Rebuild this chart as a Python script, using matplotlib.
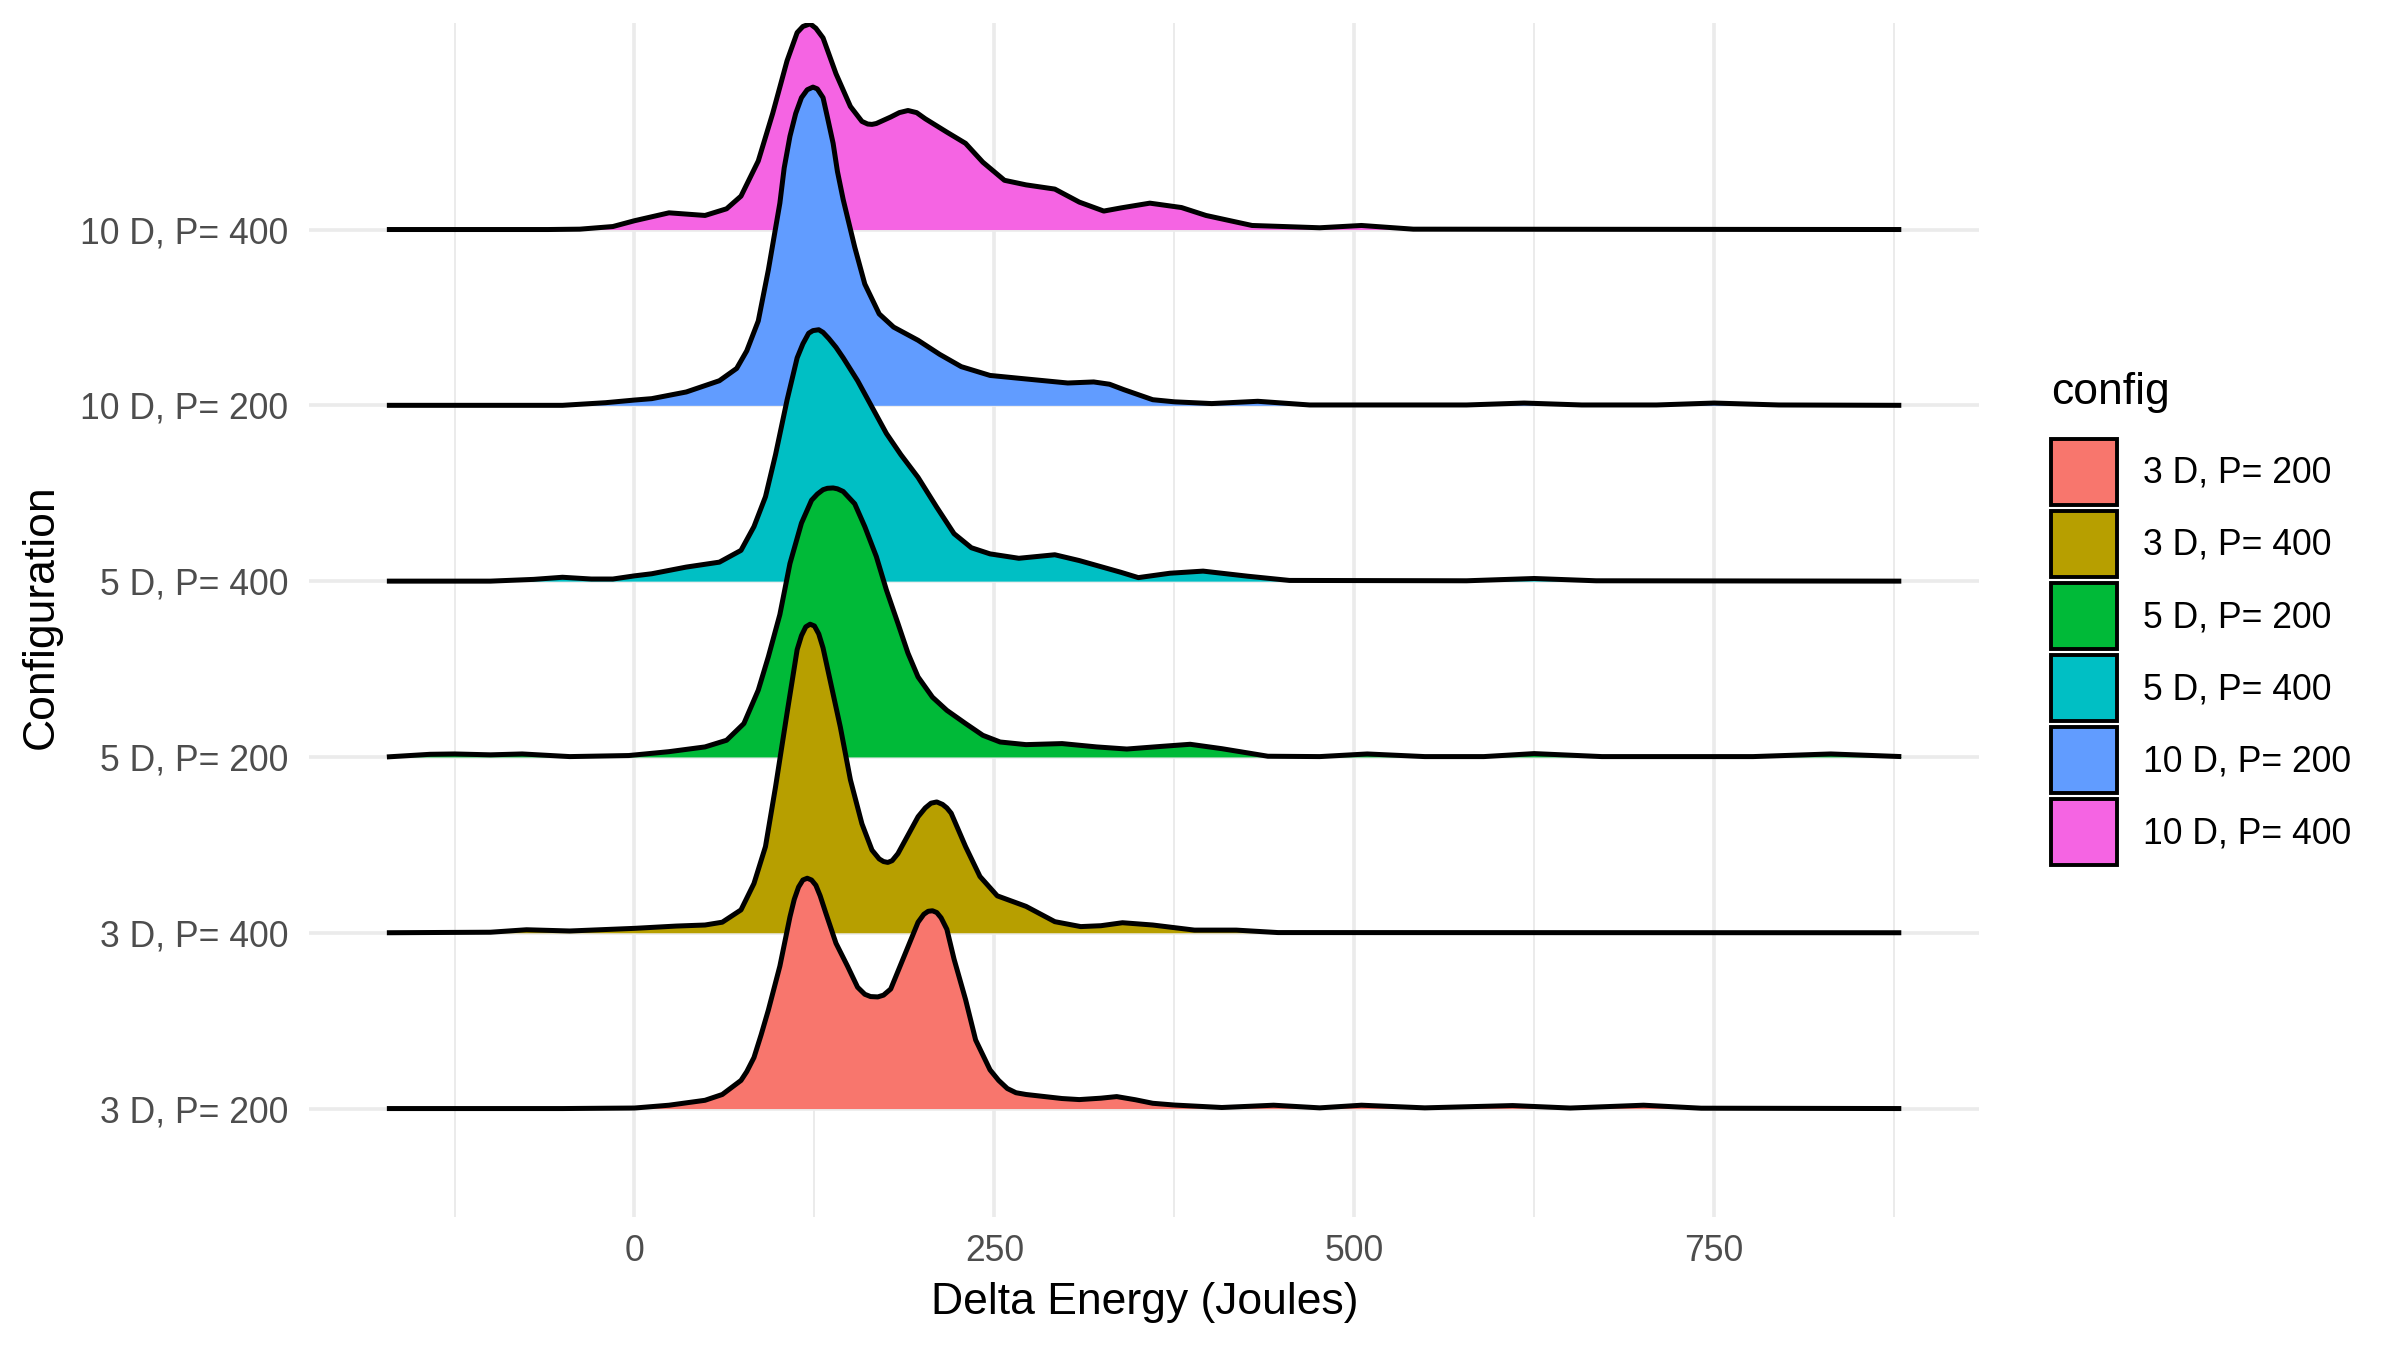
import matplotlib

matplotlib.use("Agg")
import matplotlib.pyplot as plt
from matplotlib.patches import Patch

plt.rcParams["font.family"] = ["Liberation Sans", "DejaVu Sans"]

configs = ["3 D, P= 200", "3 D, P= 400", "5 D, P= 200", "5 D, P= 400", "10 D, P= 200", "10 D, P= 400"]
colors = ["#F8766D", "#B79F00", "#00BA38", "#00BFC4", "#619CFF", "#F564E3"]

# Density curves: x in Joules, height in units of ridge spacing
x_3d200 = [-172, -50, 0, 24, 49, 61, 74, 78, 83, 88, 93, 101, 108, 111, 114, 117, 120, 123, 126,
           129, 133, 140, 148, 155, 160, 164, 169, 173, 178, 187, 197, 201, 204, 207, 210, 213,
           217, 222, 230, 237, 247, 253, 259, 265, 272, 297, 309, 324, 335, 348, 360, 375, 408,
           444, 476, 505, 549, 610, 650, 701, 741, 880]
h_3d200 = [0, 0, 0.003, 0.019, 0.047, 0.08, 0.16, 0.21, 0.29, 0.42, 0.56, 0.81, 1.09, 1.19, 1.26,
           1.30, 1.31, 1.30, 1.27, 1.21, 1.11, 0.94, 0.81, 0.69, 0.65, 0.637, 0.635, 0.645, 0.68,
           0.86, 1.06, 1.105, 1.122, 1.125, 1.115, 1.085, 1.02, 0.85, 0.62, 0.39, 0.22, 0.16,
           0.114, 0.09, 0.08, 0.057, 0.051, 0.059, 0.068, 0.05, 0.03, 0.02, 0.006, 0.019, 0.004,
           0.019, 0.004, 0.017, 0.003, 0.019, 0.002, 0]

x_3d400 = [-172, -100, -75, -45, 0, 29, 49, 61, 74, 83, 91, 98, 106, 113, 116, 119, 122, 125,
           128, 131, 135, 143, 150, 158, 165, 170, 173, 176, 179, 183, 187, 197, 202, 206, 210,
           214, 217, 220, 230, 240, 252, 272, 292, 310, 324, 339, 360, 389, 418, 447, 880]
h_3d400 = [0, 0.003, 0.017, 0.01, 0.025, 0.038, 0.044, 0.06, 0.13, 0.28, 0.49, 0.83, 1.25, 1.61,
           1.69, 1.74, 1.755, 1.745, 1.70, 1.62, 1.47, 1.17, 0.87, 0.62, 0.47, 0.42, 0.405, 0.40,
           0.41, 0.45, 0.51, 0.66, 0.71, 0.737, 0.744, 0.73, 0.71, 0.68, 0.49, 0.32, 0.21, 0.15,
           0.063, 0.035, 0.04, 0.057, 0.044, 0.015, 0.015, 0.001, 0]

x_5d200 = [-172, -142, -125, -100, -78, -45, -4, 24, 49, 64, 76, 86, 93, 101, 108, 116, 123, 127,
           131, 134, 138, 141, 145, 153, 160, 168, 175, 183, 190, 197, 207, 217, 230, 242, 254,
           272, 297, 321, 342, 366, 386, 408, 440, 476, 509, 549, 590, 625, 672, 777, 831, 880]
h_5d200 = [0, 0.015, 0.017, 0.012, 0.017, 0.002, 0.008, 0.03, 0.057, 0.095, 0.19, 0.38, 0.57,
           0.81, 1.10, 1.33, 1.46, 1.495, 1.52, 1.528, 1.53, 1.525, 1.51, 1.44, 1.31, 1.14, 0.95,
           0.76, 0.59, 0.455, 0.34, 0.265, 0.19, 0.123, 0.085, 0.07, 0.076, 0.057, 0.045, 0.06,
           0.072, 0.047, 0.004, 0.002, 0.017, 0.002, 0.002, 0.019, 0.002, 0.002, 0.017, 0.002]

x_5d400 = [-172, -100, -70, -50, -30, -15, 0, 12, 36, 59, 74, 83, 91, 98, 106, 113, 117, 121,
           124, 128, 131, 135, 140, 145, 155, 165, 175, 185, 197, 210, 222, 234, 247, 267, 292,
           309, 338, 350, 372, 395, 426, 455, 578, 625, 668, 880]
h_5d400 = [0, 0, 0.01, 0.022, 0.012, 0.012, 0.03, 0.042, 0.08, 0.108, 0.175, 0.31, 0.48, 0.72,
           1.03, 1.27, 1.35, 1.41, 1.425, 1.43, 1.415, 1.38, 1.33, 1.27, 1.14, 0.99, 0.84, 0.72,
           0.59, 0.42, 0.27, 0.19, 0.155, 0.13, 0.15, 0.117, 0.05, 0.02, 0.045, 0.057, 0.028,
           0.004, 0.002, 0.015, 0.002, 0]

x_10d200 = [-172, -50, -20, 0, 12, 36, 59, 71, 78, 86, 93, 97, 101, 104, 108, 112, 116, 120, 124,
            127, 131, 134, 138, 141, 145, 153, 160, 170, 180, 197, 212, 227, 247, 272, 301, 319,
            330, 340, 360, 375, 401, 433, 469, 578, 618, 658, 710, 750, 795, 880]
h_10d200 = [0, 0, 0.015, 0.03, 0.038, 0.076, 0.14, 0.21, 0.31, 0.48, 0.77, 0.96, 1.15, 1.35,
            1.53, 1.66, 1.75, 1.795, 1.81, 1.80, 1.75, 1.64, 1.49, 1.33, 1.17, 0.90, 0.69, 0.52,
            0.445, 0.37, 0.29, 0.22, 0.17, 0.15, 0.127, 0.133, 0.12, 0.089, 0.032, 0.02, 0.01,
            0.023, 0.002, 0.002, 0.013, 0.002, 0.002, 0.013, 0.002, 0]

x_10d400 = [-172, -60, -38, -15, 0, 24, 49, 64, 74, 86, 96, 106, 113, 117, 122, 126, 131, 140,
            150, 158, 162, 165, 168, 178, 184, 190, 196, 202, 217, 230, 242, 257, 272, 292, 309,
            326, 338, 358, 380, 397, 429, 451, 476, 505, 541, 880]
h_10d400 = [0, 0, 0.002, 0.017, 0.05, 0.095, 0.08, 0.118, 0.19, 0.39, 0.66, 0.96, 1.12, 1.155,
            1.17, 1.145, 1.09, 0.886, 0.70, 0.615, 0.60, 0.598, 0.603, 0.64, 0.665, 0.677, 0.665,
            0.63, 0.554, 0.49, 0.383, 0.28, 0.254, 0.23, 0.156, 0.105, 0.123, 0.15, 0.125, 0.08,
            0.023, 0.017, 0.01, 0.023, 0.002, 0]

xs = [x_3d200, x_3d400, x_5d200, x_5d400, x_10d200, x_10d400]
hs = [h_3d200, h_3d400, h_5d200, h_5d400, h_10d200, h_10d400]

x_major = [0, 250, 500, 750]
x_minor = [-125, 125, 375, 625, 875]

_GRID = "#EBEBEB"
_TICK = "#4D4D4D"

fig = plt.figure(figsize=(12, 6.75), dpi=200)
ax = fig.add_axes([0.1288, 0.0985, 0.6958, 0.8845])

# top ridge first so lower ridges overlap the ones above them
for i in reversed(range(len(configs))):
    base = i + 1
    top = [base + v for v in hs[i]]
    z = 10 + (len(configs) - i) * 2
    ax.fill_between(xs[i], base, top, color=colors[i], linewidth=0, zorder=z)
    ax.plot(xs[i], top, color="black", linewidth=1.8, zorder=z + 1,
            solid_capstyle="butt", solid_joinstyle="round")

ax.set_xlim(-226, 934)
ax.set_ylim(0.383, 7.175)
ax.set_xticks(x_major)
ax.set_xticks(x_minor, minor=True)
ax.set_yticks(range(1, len(configs) + 1))
ax.set_yticklabels(configs)
ax.grid(True, which="major", color=_GRID, linewidth=1.3)
ax.grid(True, which="minor", axis="x", color=_GRID, linewidth=0.7)
ax.set_axisbelow(True)
for side in ax.spines:
    ax.spines[side].set_visible(False)
ax.tick_params(which="both", length=0, labelsize=12.8, colors=_TICK)
ax.tick_params(axis="y", pad=7.5)
ax.tick_params(axis="x", pad=6)

fig.text(0.477, 0.035, "Delta Energy (Joules)", fontsize=16, ha="center", va="center")
fig.text(0.0171, 0.543, "Configuration", fontsize=16, rotation=90, ha="center", va="center")

# legend: title placed separately so the gap to the keys matches
fig.text(0.8546, 0.7089, "config", fontsize=16, ha="left", va="center")
handles = [Patch(facecolor=c, edgecolor="black", linewidth=1.4) for c in colors]
fig.legend(handles, configs, loc="upper left", bbox_to_anchor=(0.8546, 0.6748),
           frameon=False, fontsize=12.8, handlelength=1.856, handleheight=2.48,
           labelspacing=0.17, handletextpad=0.72, borderpad=0, borderaxespad=0)

fig.savefig("out.png", dpi=200)
